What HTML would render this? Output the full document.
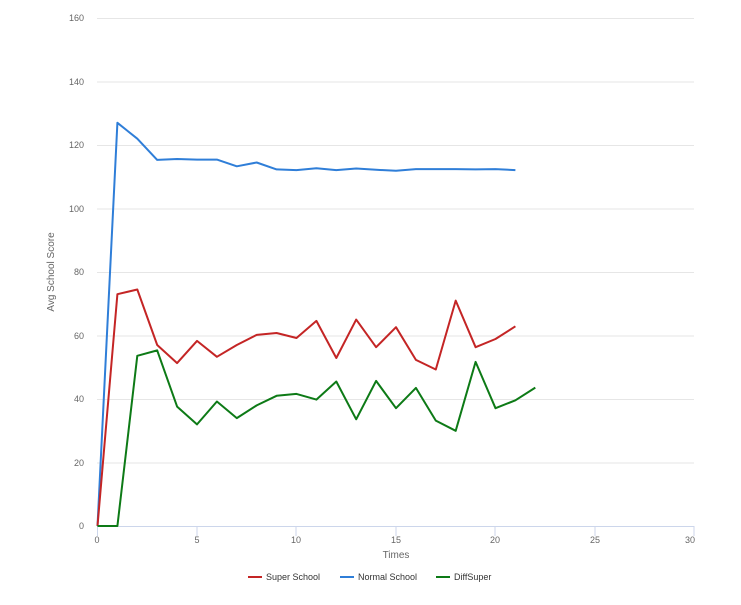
<!DOCTYPE html>
<html><head><style>body{margin:0;background:#fff}svg text{font-family:"Liberation Sans",sans-serif}</style></head>
<body>
<svg width="741" height="600" xmlns="http://www.w3.org/2000/svg">
<g stroke="#e6e6e6" stroke-width="1">
<line x1="97" x2="694" y1="18.5" y2="18.5"/><line x1="97" x2="694" y1="82" y2="82"/><line x1="97" x2="694" y1="145.5" y2="145.5"/><line x1="97" x2="694" y1="209" y2="209"/><line x1="97" x2="694" y1="272.5" y2="272.5"/><line x1="97" x2="694" y1="336" y2="336"/><line x1="97" x2="694" y1="399.5" y2="399.5"/><line x1="97" x2="694" y1="463" y2="463"/>
</g>
<line x1="97" x2="694" y1="526.5" y2="526.5" stroke="#ccd6eb"/>
<g stroke="#ccd6eb"><line x1="97.5" x2="97.5" y1="526" y2="536"/><line x1="197" x2="197" y1="526" y2="536"/><line x1="296" x2="296" y1="526" y2="536"/><line x1="396" x2="396" y1="526" y2="536"/><line x1="495" x2="495" y1="526" y2="536"/><line x1="595" x2="595" y1="526" y2="536"/><line x1="694" x2="694" y1="526" y2="536"/></g>
<g font-size="9" fill="#666" text-anchor="end">
<text x="84" y="21">160</text><text x="84" y="85">140</text><text x="84" y="148">120</text><text x="84" y="212">100</text><text x="84" y="275">80</text><text x="84" y="339">60</text><text x="84" y="402">40</text><text x="84" y="466">20</text><text x="84" y="529">0</text></g>
<g font-size="9" fill="#666" text-anchor="middle">
<text x="97" y="543">0</text><text x="197" y="543">5</text><text x="296" y="543">10</text><text x="396" y="543">15</text><text x="495" y="543">20</text><text x="595" y="543">25</text><text x="690" y="543">30</text></g>
<text x="396" y="558" font-size="10" fill="#666" text-anchor="middle">Times</text>
<text x="54" y="272" font-size="10" fill="#666" text-anchor="middle" transform="rotate(-90 54 272)">Avg School Score</text>
<g fill="none" stroke-width="2" stroke-linejoin="round">
<polyline id="n" stroke="#2f7ed8" points=""/>
<polyline id="r" stroke="#c42525" points=""/>
<polyline id="g" stroke="#0d7a16" points=""/>
</g>
<g font-size="9" fill="#333">
<line x1="248" x2="262" y1="577" y2="577" stroke="#c42525" stroke-width="2"/><text x="266" y="580">Super School</text>
<line x1="340" x2="354" y1="577" y2="577" stroke="#2f7ed8" stroke-width="2"/><text x="358" y="580">Normal School</text>
<line x1="436" x2="450" y1="577" y2="577" stroke="#0d7a16" stroke-width="2"/><text x="454" y="580">DiffSuper</text>
</g>
<script>
function P(id,v){document.getElementById(id).setAttribute('points',v.map((y,i)=>(97.5+i*19.9).toFixed(1)+','+(526-y*3.175).toFixed(1)).join(' '));}
P('n',[0,127,122,115.3,115.6,115.4,115.4,113.3,114.5,112.3,112.1,112.7,112.1,112.6,112.2,111.9,112.4,112.4,112.4,112.3,112.4,112.1]);
P('r',[0,73,74.5,57,51.3,58.3,53.3,57,60.2,60.8,59.2,64.6,52.9,65,56.3,62.6,52.3,49.3,71,56.3,58.9,62.9]);
P('g',[0,0,53.6,55.3,37.6,32,39.2,34,38,41,41.6,39.8,45.5,33.6,45.7,37.1,43.5,33.2,30,51.7,37.1,39.6,43.6]);
</script>
</svg>
</body></html>
